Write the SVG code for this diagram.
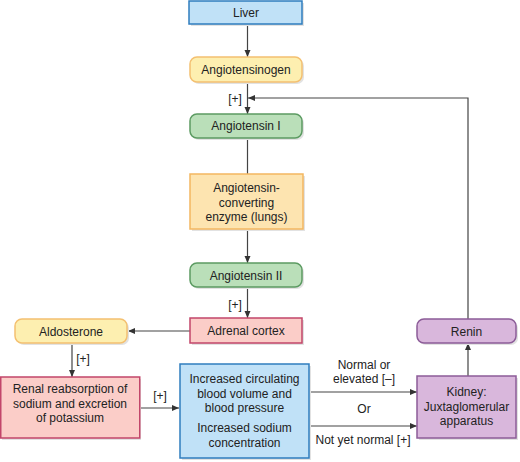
<svg xmlns="http://www.w3.org/2000/svg" width="520" height="462" viewBox="0 0 520 462">
<defs>
<marker id="ah" markerUnits="userSpaceOnUse" markerWidth="8" markerHeight="8" refX="7" refY="3.5" orient="auto">
<path d="M0,0.5 L7,3.5 L0,6.5 z" fill="#333"/>
</marker>
</defs>
<style>
text{font-family:"Liberation Sans",Arial,sans-serif;font-size:12px;fill:#222;text-anchor:middle}
.sh{fill:#e2e2e2;stroke:none}
.blue{fill:#c0e1f7;stroke:#2f7dbf;stroke-width:1.5}
.yel{fill:#fdefb0;stroke:#f4c070;stroke-width:1.5}
.org{fill:#fde4b0;stroke:#f3b760;stroke-width:1.5}
.grn{fill:#badfb9;stroke:#5c9b62;stroke-width:1.5}
.pink{fill:#fbcdc8;stroke:#c2466a;stroke-width:1.5}
.pur{fill:#d9b7dc;stroke:#8c5c98;stroke-width:1.5}
.ln{fill:none;stroke:#444;stroke-width:1.2}
.lb{text-anchor:start}
</style>
<g id="connectors">
<line class="ln" x1="247.5" y1="24" x2="247.5" y2="57" marker-end="url(#ah)"/>
<line class="ln" x1="247.5" y1="82" x2="247.5" y2="114" marker-end="url(#ah)"/>
<line class="ln" x1="247.5" y1="138" x2="247.5" y2="174"/>
<line class="ln" x1="247.5" y1="229" x2="247.5" y2="263" marker-end="url(#ah)"/>
<line class="ln" x1="247.5" y1="287" x2="247.5" y2="318" marker-end="url(#ah)"/>
<line class="ln" x1="190" y1="331" x2="128" y2="331" marker-end="url(#ah)"/>
<line class="ln" x1="72" y1="343" x2="72" y2="377" marker-end="url(#ah)"/>
<line class="ln" x1="140" y1="408" x2="179" y2="408" marker-end="url(#ah)"/>
<line class="ln" x1="309" y1="392" x2="417" y2="392" marker-end="url(#ah)"/>
<line class="ln" x1="309" y1="426" x2="417" y2="426" marker-end="url(#ah)"/>
<line class="ln" x1="468" y1="376" x2="468" y2="343" marker-end="url(#ah)"/>
<polyline class="ln" points="468,319 468,98 248,98" marker-end="url(#ah)"/>
<text x="235" y="103">[+]</text>
<text x="235" y="309">[+]</text>
<text x="83" y="363">[+]</text>
<text x="160" y="400">[+]</text>
<text x="364" y="369">Normal or</text>
<text x="364" y="383">elevated [–]</text>
<text x="364" y="413">Or</text>
<text x="363" y="444">Not yet normal [+]</text>
</g>
<g id="liver">
<rect class="sh" x="191" y="3" width="113" height="23"/>
<rect class="blue" x="189" y="1" width="113" height="23"/>
<text x="246" y="17">Liver</text>
</g>
<g id="angiotensinogen">
<rect class="sh" x="192" y="59" width="112" height="25" rx="7"/>
<rect class="yel" x="190" y="57" width="112" height="25" rx="7"/>
<text x="246" y="74">Angiotensinogen</text>
</g>
<g id="angiotensin1">
<rect class="sh" x="192" y="116" width="112" height="24" rx="7"/>
<rect class="grn" x="190" y="114" width="112" height="24" rx="7"/>
<text x="246" y="130">Angiotensin I</text>
</g>
<g id="ace">
<rect class="sh" x="192" y="176" width="113" height="55"/>
<rect class="org" x="190" y="174" width="113" height="55"/>
<text x="246.5" y="192">Angiotensin-</text>
<text x="246.5" y="206.5">converting</text>
<text x="246.5" y="221">enzyme (lungs)</text>
</g>
<g id="angiotensin2">
<rect class="sh" x="192" y="265" width="112" height="24" rx="7"/>
<rect class="grn" x="190" y="263" width="112" height="24" rx="7"/>
<text x="246" y="279.5">Angiotensin II</text>
</g>
<g id="adrenal">
<rect class="sh" x="192" y="320" width="112" height="25"/>
<rect class="pink" x="190" y="318" width="112" height="25"/>
<text x="246" y="335">Adrenal cortex</text>
</g>
<g id="aldosterone">
<rect class="sh" x="17" y="321" width="112" height="24" rx="7"/>
<rect class="yel" x="15" y="319" width="112" height="24" rx="7"/>
<text x="71" y="335.5">Aldosterone</text>
</g>
<g id="renal">
<rect class="sh" x="2" y="379" width="139" height="61"/>
<rect class="pink" x="0.75" y="377" width="139" height="61"/>
<text x="70" y="393">Renal reabsorption of</text>
<text x="70" y="407.5">sodium and excretion</text>
<text x="70" y="422">of potassium</text>
</g>
<g id="blood">
<rect class="sh" x="182" y="366" width="129" height="94"/>
<rect class="blue" x="180" y="364" width="129" height="94"/>
<text x="244.5" y="383">Increased circulating</text>
<text x="244.5" y="397.5">blood volume and</text>
<text x="244.5" y="412">blood pressure</text>
<text x="244.5" y="432">Increased sodium</text>
<text x="244.5" y="446.5">concentration</text>
</g>
<g id="kidney">
<rect class="sh" x="419" y="378" width="99" height="62"/>
<rect class="pur" x="417" y="376" width="99" height="62"/>
<text x="466.5" y="396">Kidney:</text>
<text x="466.5" y="410.5">Juxtaglomerular</text>
<text x="466.5" y="425">apparatus</text>
</g>
<g id="renin">
<rect class="sh" x="419" y="321" width="99" height="24" rx="7"/>
<rect class="pur" x="417" y="319" width="99" height="24" rx="7"/>
<text x="466.5" y="335.5">Renin</text>
</g>
</svg>
